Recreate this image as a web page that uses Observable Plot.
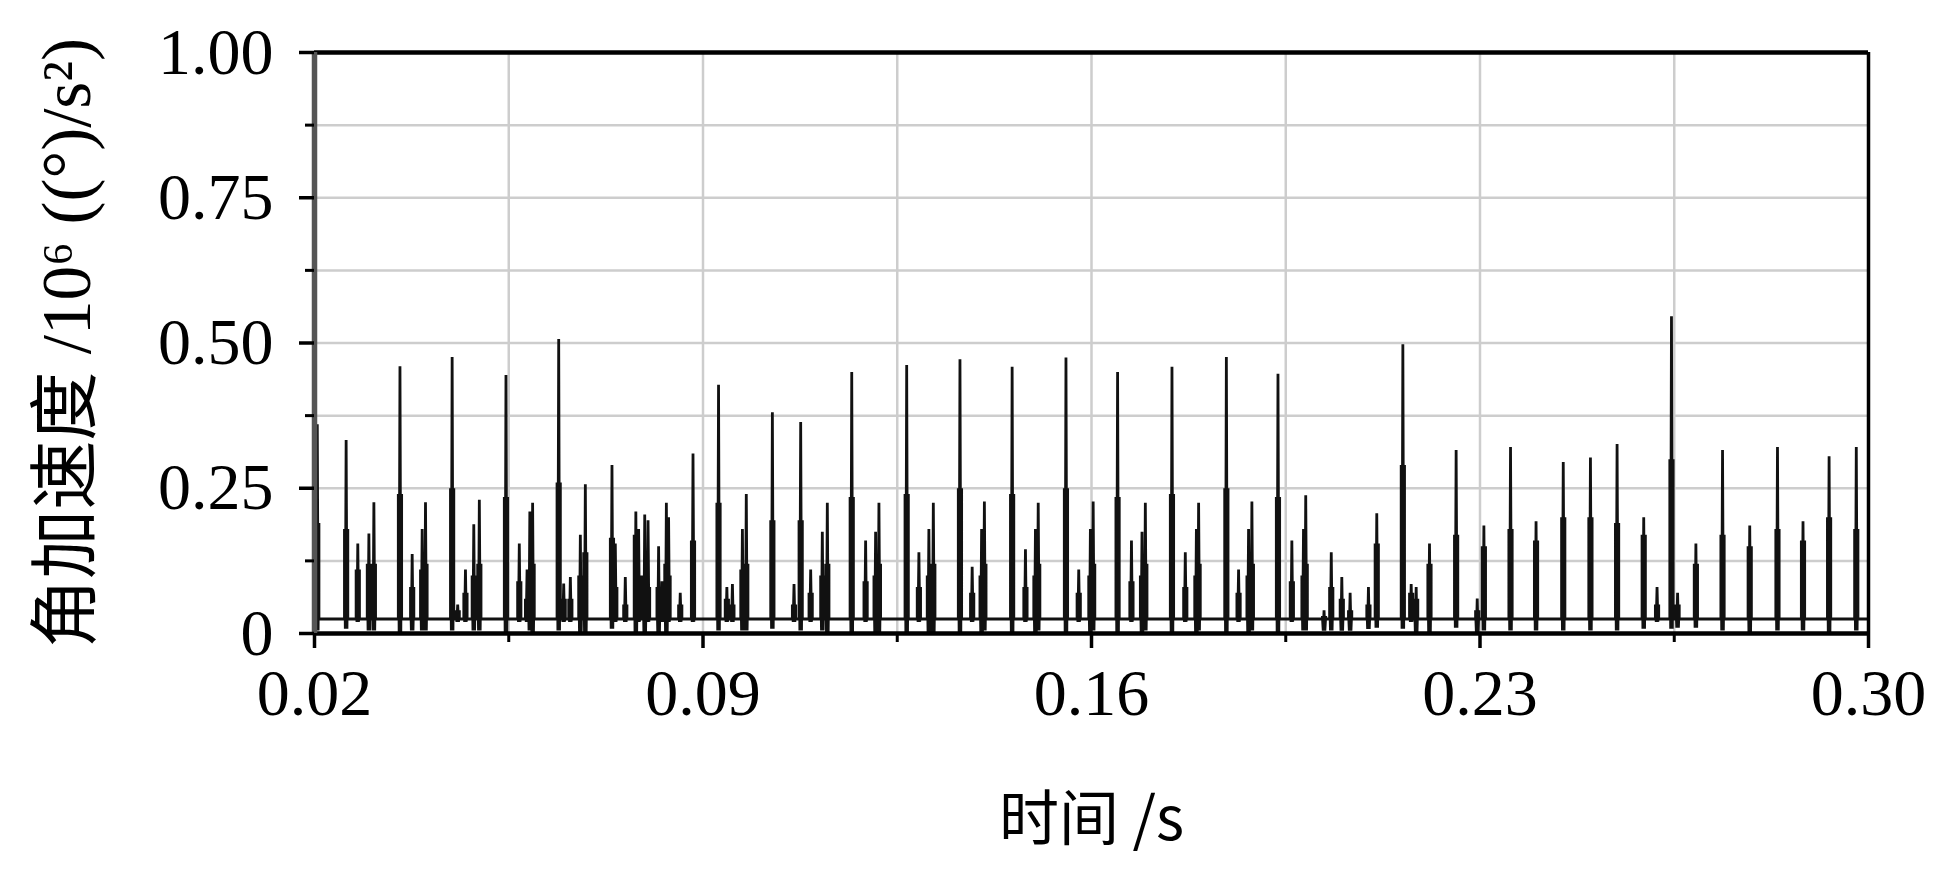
<!DOCTYPE html>
<html>
<head>
<meta charset="utf-8">
<script src="https://cdn.jsdelivr.net/npm/d3@7"></script>
<script src="https://cdn.jsdelivr.net/npm/@observablehq/plot@0.6"></script>
<style>
  html, body { margin: 0; padding: 0; background: #fff; }
  #chart { width: 1946px; height: 871px; overflow: hidden; }
</style>
</head>
<body>
<div id="chart"></div>
<script>
// ---- axis ticks / grid ----
const xMajorTicks = [0.02, 0.09, 0.16, 0.23, 0.30];
const xMinorTicks = [0.055, 0.125, 0.195, 0.265];
const xGridLines = [0.055, 0.09, 0.125, 0.16, 0.195, 0.23, 0.265];
const yMajorTicks = [0, 0.25, 0.5, 0.75, 1];
const yMinorTicks = [0.125, 0.375, 0.625, 0.875];
const yGridLines = [0.125, 0.25, 0.375, 0.5, 0.625, 0.75, 0.875];

const xTitle = "时间 /s";
const yTitle = "角加速度 /10⁶ ((°)/s²)";

// ---- signal ----
const restLevel = 0.025;
const eventTime = [
  0.0205, 0.0257, 0.0278, 0.0298, 0.0307,
  0.0354, 0.0376, 0.0394, 0.0400,
  0.0448, 0.0458, 0.0472, 0.0487, 0.0497,
  0.0545, 0.0569, 0.0583, 0.0588, 0.0593,
  0.0640, 0.0649, 0.0661, 0.0679, 0.0688,
  0.0736, 0.0742, 0.0760, 0.0779, 0.0784, 0.0795, 0.0801,
  0.0820, 0.0826, 0.0834, 0.0838, 0.0859,
  0.0882, 0.0928, 0.0943, 0.0953, 0.0971, 0.0978,
  0.1025, 0.1064, 0.1076,
  0.1094, 0.1115, 0.1124,
  0.1168, 0.1193, 0.1211, 0.1217,
  0.1267, 0.1289, 0.1307, 0.1315,
  0.1363, 0.1385, 0.1402, 0.1407,
  0.1457, 0.1481, 0.1499, 0.1504,
  0.1554, 0.1577, 0.1598, 0.1603,
  0.1647, 0.1672, 0.1691, 0.1697,
  0.1745, 0.1769, 0.1789, 0.1793,
  0.1843, 0.1865, 0.1883, 0.1889,
  0.1936, 0.1961, 0.1982, 0.1986,
  0.2019, 0.2032, 0.2051, 0.2066, 0.2099, 0.2114,
  0.2161, 0.2176, 0.2185, 0.2209,
  0.2257, 0.2295, 0.2307,
  0.2355, 0.2401, 0.2450, 0.2499, 0.2547, 0.2595, 0.2619,
  0.2645, 0.2656, 0.2689, 0.2737, 0.2786, 0.2836, 0.2882, 0.2929, 0.2978
];
const eventPeak = [
  0.36, 0.333, 0.155, 0.172, 0.226,
  0.46, 0.137, 0.18, 0.226,
  0.476, 0.05, 0.11, 0.188, 0.23,
  0.445, 0.155, 0.11, 0.21, 0.225,
  0.507, 0.086, 0.097, 0.17, 0.257,
  0.29, 0.155, 0.097, 0.21, 0.18, 0.205, 0.195,
  0.15, 0.09, 0.225, 0.2, 0.07,
  0.31, 0.428, 0.08, 0.085, 0.18, 0.24,
  0.381, 0.085, 0.364,
  0.11, 0.175, 0.225,
  0.45, 0.16, 0.175, 0.225,
  0.462, 0.14, 0.18, 0.225,
  0.472, 0.115, 0.18, 0.227,
  0.459, 0.145, 0.18, 0.225,
  0.475, 0.11, 0.18, 0.227,
  0.45, 0.16, 0.175, 0.225,
  0.459, 0.14, 0.18, 0.225,
  0.476, 0.11, 0.18, 0.227,
  0.447, 0.16, 0.18, 0.238,
  0.04, 0.14, 0.097, 0.07, 0.08, 0.207,
  0.498, 0.085, 0.08, 0.155,
  0.316, 0.06, 0.186,
  0.321, 0.193, 0.295, 0.303, 0.326, 0.2, 0.08,
  0.546, 0.07, 0.155, 0.316, 0.186, 0.321, 0.193, 0.305, 0.321
];
const eventShoulder = [
  0.19, 0.18, 0.11, 0.12, 0.12,
  0.24, 0.08, 0.11, 0.12,
  0.25, 0.04, 0.07, 0.1, 0.12,
  0.235, 0.09, 0.06, 0.1, 0.12,
  0.26, 0.06, 0.06, 0.1, 0.14,
  0.165, 0.08, 0.05, 0.17, 0.1, 0.1, 0.08,
  0.08, 0.05, 0.12, 0.1, 0.05,
  0.16, 0.225, 0.06, 0.05, 0.11, 0.12,
  0.195, 0.05, 0.195,
  0.07, 0.1, 0.12,
  0.235, 0.09, 0.1, 0.12,
  0.24, 0.08, 0.1, 0.12,
  0.25, 0.07, 0.1, 0.12,
  0.24, 0.08, 0.1, 0.12,
  0.25, 0.07, 0.1, 0.12,
  0.235, 0.09, 0.1, 0.12,
  0.24, 0.08, 0.1, 0.12,
  0.25, 0.07, 0.1, 0.12,
  0.235, 0.09, 0.1, 0.12,
  0.03, 0.08, 0.06, 0.04, 0.05, 0.155,
  0.29, 0.07, 0.06, 0.12,
  0.17, 0.04, 0.15,
  0.18, 0.16, 0.2, 0.2, 0.19, 0.17, 0.05,
  0.3, 0.05, 0.12, 0.17, 0.15, 0.18, 0.16, 0.2, 0.18
];
const eventDip = [
  0.005, 0.008, 0.02, 0.005, 0.005,
  0.0, 0.005, 0.005, 0.005,
  0.005, 0.02, 0.02, 0.005, 0.005,
  0.0, 0.02, 0.02, 0.005, 0.0,
  0.005, 0.02, 0.02, 0.0, 0.0,
  0.008, 0.02, 0.02, 0.0, 0.02, 0.0, 0.02,
  0.0, 0.02, 0.0, 0.02, 0.02,
  0.02, 0.005, 0.02, 0.02, 0.005, 0.005,
  0.008, 0.02, 0.005,
  0.02, 0.005, 0.0,
  0.0, 0.02, 0.0, 0.0,
  0.0, 0.02, 0.0, 0.0,
  0.0, 0.02, 0.0, 0.005,
  0.0, 0.02, 0.0, 0.005,
  0.0, 0.02, 0.0, 0.005,
  0.0, 0.02, 0.0, 0.005,
  0.0, 0.02, 0.0, 0.005,
  0.0, 0.02, 0.0, 0.005,
  0.0, 0.02, 0.005, 0.005,
  0.005, 0.005, 0.005, 0.005, 0.008, 0.01,
  0.008, 0.02, 0.0, 0.0,
  0.01, 0.0, 0.005,
  0.005, 0.005, 0.005, 0.005, 0.005, 0.008, 0.02,
  0.008, 0.01, 0.01, 0.005, 0.0, 0.005, 0.005, 0.0, 0.005
];

// build the trace: each event is a narrow up/down excursion from the rest level
const spikeHalfWidth = 0.0003;
const trace = [{t: 0.02, v: restLevel}];
eventTime.forEach((t, i) => {
  const w = spikeHalfWidth;
  trace.push(
    {t: t - w, v: restLevel},
    {t: t - w, v: eventShoulder[i]},
    {t: t - w / 2, v: eventDip[i]},
    {t: t, v: eventPeak[i]},
    {t: t + w / 2, v: eventDip[i]},
    {t: t + w, v: eventShoulder[i]},
    {t: t + w, v: restLevel}
  );
});
trace.push({t: 0.30, v: restLevel});

const serif = "'Liberation Serif', 'Noto Sans CJK SC', serif";

const chart = Plot.plot({
  width: 1946,
  height: 871,
  marginLeft: 314,
  marginRight: 78,
  marginTop: 52,
  marginBottom: 238,
  style: {background: "#fff", fontFamily: serif, color: "#000"},
  x: {domain: [0.02, 0.30]},
  y: {domain: [0, 1]},
  marks: [
    Plot.gridX(xGridLines, {stroke: "#cdcdcd", strokeOpacity: 1, strokeWidth: 2.5}),
    Plot.gridY(yGridLines, {stroke: "#cdcdcd", strokeOpacity: 1, strokeWidth: 2.5}),
    Plot.line(trace, {x: "t", y: "v", stroke: "#111", strokeWidth: 2.8, strokeLinejoin: "miter", clip: true}),
    Plot.ruleY([1], {stroke: "#000", strokeWidth: 4.5}),
    Plot.ruleX([0.30], {stroke: "#000", strokeWidth: 3.5}),
    Plot.ruleY([0], {stroke: "#000", strokeWidth: 4.5}),
    Plot.ruleX([0.02], {stroke: "#555", strokeWidth: 5.5}),
    Plot.axisX(xMajorTicks, {
      tickSize: 15, tickPadding: 20, strokeWidth: 3.5, fontSize: 66,
      tickFormat: d3.format(".2f"),
      label: xTitle, labelAnchor: "center", labelArrow: "none", labelOffset: 206
    }),
    Plot.axisX(xMinorTicks, {tickSize: 9, strokeWidth: 3, tickFormat: () => "", label: null}),
    Plot.axisY(yMajorTicks, {
      tickSize: 15, tickPadding: 26, strokeWidth: 3.5, fontSize: 66,
      tickFormat: d => d === 0 ? "0" : d3.format(".2f")(d),
      label: yTitle, labelAnchor: "center", labelArrow: "none", labelOffset: 274
    }),
    Plot.axisY(yMinorTicks, {tickSize: 9, strokeWidth: 3, tickFormat: () => "", label: null})
  ]
});

// title styling
chart.querySelectorAll("text").forEach(el => {
  if (el.textContent === yTitle) {
    el.setAttribute("font-size", 70);
    el.setAttribute("textLength", 610);
    el.setAttribute("lengthAdjust", "spacingAndGlyphs");
  } else if (el.textContent === xTitle) {
    el.setAttribute("font-size", 60);
    el.setAttribute("font-family", "'Noto Sans CJK SC', sans-serif");
  }
});

document.getElementById("chart").appendChild(chart);
</script>
</body>
</html>
